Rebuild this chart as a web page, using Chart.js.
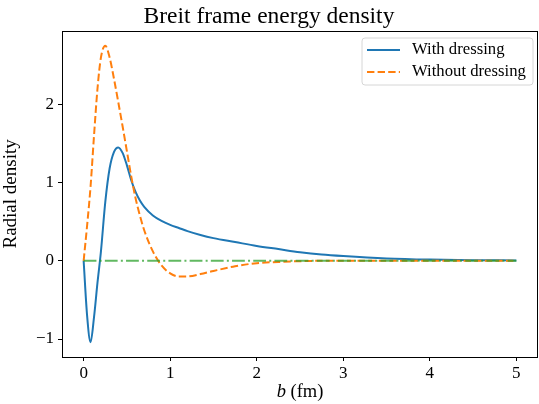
<!DOCTYPE html>
<html>
<head>
<meta charset="utf-8">
<script src="https://cdn.jsdelivr.net/npm/chart.js@4"></script>
<style>
  body { margin: 0; background: #fff; }
  canvas { display: block; }
</style>
</head>
<body>
<canvas id="myChart" width="539" height="404"></canvas>
<script>
// impact parameter b (fm)
var bValues = [0, 0.04, 0.08, 0.12, 0.16, 0.2, 0.25, 0.3, 0.35, 0.4, 0.45, 0.5, 0.55, 0.6, 0.65,
               0.7, 0.8, 0.9, 1.0, 1.1, 1.2, 1.35, 1.5, 1.75, 2.0, 2.25, 2.5, 2.75, 3.0,
               3.5, 4.0, 4.5, 5.0];
var withDressing = [0, -0.7, -1.04, -0.72, -0.28, 0.12, 0.75, 1.18, 1.39, 1.45, 1.38, 1.22, 1.03, 0.88, 0.77,
                    0.69, 0.58, 0.51, 0.46, 0.42, 0.38, 0.33, 0.29, 0.24, 0.19, 0.15, 0.11, 0.08, 0.06,
                    0.03, 0.015, 0.008, 0.005];
var withoutDressing = [0, 0.45, 0.95, 1.6, 2.2, 2.6, 2.75, 2.6, 2.33, 2.03, 1.72, 1.4, 1.08, 0.8, 0.58,
                       0.39, 0.12, -0.06, -0.16, -0.2, -0.2, -0.17, -0.13, -0.07, -0.03, -0.015, -0.005, 0, 0,
                       0, 0, 0, 0];
var zeroLineX = [0, 5];
var zeroLineY = [0, 0];
var xTicks = [0, 1, 2, 3, 4, 5];
var yTicks = [-1, 0, 1, 2];
var seriesLabels = ["With dressing", "Without dressing"];

var FONT = "'Liberation Serif', 'DejaVu Serif', serif";
var BLUE = '#1f77b4', ORANGE = '#ff7f0e', GREEN = 'rgba(44, 160, 44, 0.75)';

function toPoints(xs, ys){
    var pts = [];
    for (var i = 0; i < xs.length; i++){
        pts.push({x: xs[i], y: ys[i]});
    }
    return pts;
}

// frame, x label with italic b, and legend box
var extras = {
    id: 'extras',
    afterDraw: function(chart){
        var ctx = chart.ctx, a = chart.chartArea;
        ctx.save();
        ctx.strokeStyle = '#000';
        ctx.lineWidth = 1;
        ctx.strokeRect(Math.round(a.left) + 0.5, Math.round(a.top) + 0.5,
                       Math.round(a.right - a.left) - 1, Math.round(a.bottom - a.top));

        // x axis title: "b (fm)"
        ctx.fillStyle = '#000';
        ctx.textBaseline = 'middle';
        var cx = (a.left + a.right) / 2, cy = 392;
        ctx.font = "italic 18.5px " + FONT;
        var w1 = ctx.measureText("b").width;
        ctx.font = "18.5px " + FONT;
        var w2 = ctx.measureText(" (fm)").width;
        var sx = cx - (w1 + w2) / 2;
        ctx.font = "italic 18.5px " + FONT;
        ctx.textAlign = 'left';
        ctx.fillText("b", sx, cy);
        ctx.font = "18.5px " + FONT;
        ctx.fillText(" (fm)", sx + w1, cy);

        // legend
        var lx = 362, ly = 38, lw = 171, lh = 47, r = 3;
        ctx.beginPath();
        ctx.moveTo(lx + r, ly);
        ctx.arcTo(lx + lw, ly, lx + lw, ly + lh, r);
        ctx.arcTo(lx + lw, ly + lh, lx, ly + lh, r);
        ctx.arcTo(lx, ly + lh, lx, ly, r);
        ctx.arcTo(lx, ly, lx + lw, ly, r);
        ctx.closePath();
        ctx.fillStyle = 'rgba(255,255,255,0.8)';
        ctx.fill();
        ctx.strokeStyle = '#d6d6d6';
        ctx.stroke();

        var rows = [{y: 50, color: BLUE, dash: []}, {y: 72, color: ORANGE, dash: [7.4, 3.2]}];
        ctx.lineWidth = 2;
        for (var i = 0; i < rows.length; i++){
            ctx.beginPath();
            ctx.setLineDash(rows[i].dash);
            ctx.strokeStyle = rows[i].color;
            ctx.moveTo(367, rows[i].y);
            ctx.lineTo(400, rows[i].y);
            ctx.stroke();
            ctx.setLineDash([]);
            ctx.fillStyle = '#000';
            ctx.font = "16.7px " + FONT;
            ctx.fillText(seriesLabels[i], 412, rows[i].y);
        }
        ctx.restore();
    }
};

new Chart(document.getElementById("myChart"), {
    type: 'line',
    data: {
        datasets: [{
            label: seriesLabels[0],
            data: toPoints(bValues, withDressing),
            borderColor: BLUE,
            borderWidth: 2,
            pointRadius: 0,
            cubicInterpolationMode: 'monotone',
            order: 2
        }, {
            label: seriesLabels[1],
            data: toPoints(bValues, withoutDressing),
            borderColor: ORANGE,
            borderWidth: 2,
            borderDash: [7.4, 3.2],
            pointRadius: 0,
            cubicInterpolationMode: 'monotone',
            order: 1
        }, {
            label: 'zero',
            data: toPoints(zeroLineX, zeroLineY),
            borderColor: GREEN,
            borderWidth: 2,
            borderDash: [12.8, 3.2, 2, 3.2],
            pointRadius: 0,
            order: 0
        }]
    },
    options: {
        responsive: false,
        animation: false,
        devicePixelRatio: 1,
        layout: { padding: { right: 1 } },
        plugins: {
            legend: { display: false },
            tooltip: { enabled: false },
            title: {
                display: true,
                text: 'Breit frame energy density',
                color: '#000',
                font: { family: FONT, size: 23.5, weight: 'normal', lineHeight: 1.1 },
                padding: { top: 4, bottom: 1 }
            }
        },
        scales: {
            x: {
                type: 'linear',
                min: -0.25,
                max: 5.25,
                afterFit: function(scale){ scale.height = 47; },
                afterBuildTicks: function(scale){
                    scale.ticks = xTicks.map(function(v){ return {value: v}; });
                },
                grid: { display: true, drawOnChartArea: false, drawTicks: true, tickLength: 4, color: '#000' },
                border: { display: false },
                ticks: { color: '#000', padding: 2, maxRotation: 0, font: { family: FONT, size: 17 } }
            },
            y: {
                type: 'linear',
                min: -1.23,
                max: 2.94,
                afterFit: function(scale){ scale.width = 62; },
                afterBuildTicks: function(scale){
                    scale.ticks = yTicks.map(function(v){ return {value: v}; });
                },
                grid: { display: true, drawOnChartArea: false, drawTicks: true, tickLength: 4, color: '#000' },
                border: { display: false },
                ticks: {
                    color: '#000', padding: 4, font: { family: FONT, size: 17 },
                    callback: function(v){ return String(v).replace('-', '\u2212'); }
                },
                title: {
                    display: true,
                    text: 'Radial density',
                    color: '#000',
                    padding: { top: 0, bottom: 0 },
                    font: { family: FONT, size: 19 }
                }
            }
        }
    },
    plugins: [extras]
});
</script>
</body>
</html>
